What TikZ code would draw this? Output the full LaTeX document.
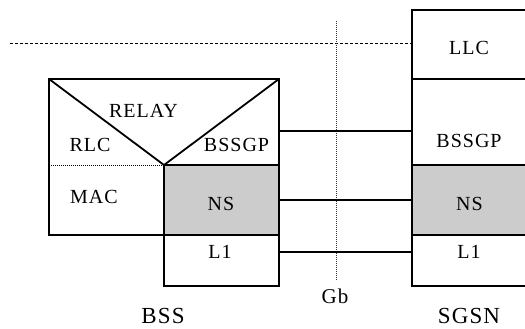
\documentclass[tikz,border=0pt]{standalone}
\usepackage{fontspec}
\setmainfont[LetterSpace=5]{Liberation Serif}
\tikzset{
  layer/.style = {draw=black, line width=1.8pt, rectangle, anchor=north west, inner sep=0pt, outer sep=0pt},
  nslayer/.style = {layer, fill=black!20},
  link/.style = {black, line width=1.8pt},
  lbl/.style = {font=\fontsize{20}{20}\selectfont, inner sep=0pt},
  sidelbl/.style = {font=\fontsize{23}{23}\selectfont, inner sep=0pt}
}
\begin{document}
\begin{tikzpicture}[x=1pt, y=-1pt]
            \useasboundingbox (0,0) rectangle (525,329);
            % reference lines
            \draw[black, line width=0.7pt, dash pattern=on 3pt off 2pt] (10,43) -- (412,43);
            \draw[black!80, line width=0.6pt, dash pattern=on 1pt off 1pt] (336,21) -- (336,281);
            % BSS
            \node[nslayer, minimum width=115pt, minimum height=70pt] (bssNS) at (164,165) {};
            \node[layer, minimum width=115pt, minimum height=51pt] (bssL1) at (164,235) {};
            \node[layer, minimum width=230pt, minimum height=156pt] (bssframe) at (49,79) {};
            \coordinate (apex) at (bssNS.north west);
            \draw[link] (bssframe.north west) -- (apex) -- (bssframe.north east);
            \draw[black, line width=0.6pt, dash pattern=on 1pt off 1pt] (bssframe.west |- apex) -- (apex);
            % SGSN
            \node[layer, minimum width=115pt, minimum height=69pt] (sgsnLLC) at (412,10) {};
            \node[layer, minimum width=115pt, minimum height=86pt] (sgsnBSSGP) at (412,79) {};
            \node[nslayer, minimum width=115pt, minimum height=70pt] (sgsnNS) at (412,165) {};
            \node[layer, minimum width=115pt, minimum height=51pt] (sgsnL1) at (412,235) {};
            % Gb links
            \draw[link] ([yshift=-52pt]bssframe.north east) -- ([yshift=-52pt]sgsnBSSGP.north west);
            \draw[link] (bssNS.east) -- (sgsnNS.west);
            \draw[link] ([yshift=-17pt]bssL1.north east) -- ([yshift=-17pt]sgsnL1.north west);
            % labels
            \node[lbl] (relay) at (143.5,110.5) {RELAY};
            \node[lbl] (rlc) at (90,145) {RLC};
            \node[lbl] (bssgpa) at (236.5,145) {BSSGP};
            \node[lbl] (mac) at (94,196.5) {MAC};
            \node[lbl] (nsa) at (221,204) {NS};
            \node[lbl] (l1a) at (220,251.5) {L1};
            \node[lbl] (llc) at (469,47.5) {LLC};
            \node[lbl] (bssgpb) at (469,141) {BSSGP};
            \node[lbl] (nsb) at (469.5,204) {NS};
            \node[lbl] (l1b) at (469,251.5) {L1};
            \node[font=\fontsize{21}{21}\selectfont, inner sep=0pt] (gb) at (335,296.5) {Gb};
            \node[sidelbl] (bss) at (163,315.5) {BSS};
            \node[sidelbl] (sgsn) at (469,315.5) {SGSN};

        \end{tikzpicture}
\end{document}
